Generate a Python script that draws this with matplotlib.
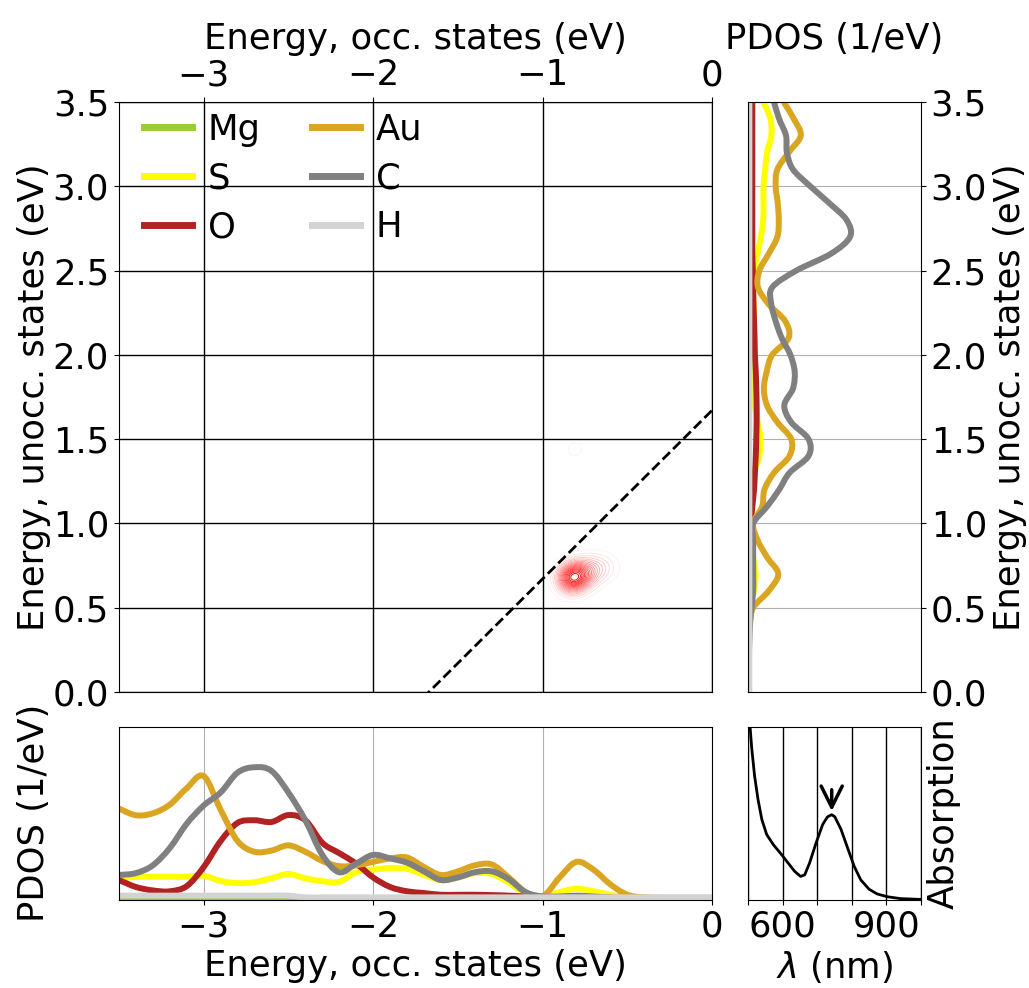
import numpy as np
import matplotlib
matplotlib.use('Agg')
import matplotlib.pyplot as plt
from matplotlib.path import Path
from matplotlib.patches import PathPatch
from matplotlib.lines import Line2D
from matplotlib.colors import Normalize

plt.rcParams['font.size'] = 25.5

elements = ['Mg', 'S', 'O', 'Au', 'C', 'H']
colors = ['yellowgreen', 'yellow', 'firebrick', 'goldenrod', 'gray', 'lightgray']

# occupied-state PDOS, energies -3.5 .. 0.0 eV (step 0.1)
e_occ = np.round(np.arange(-3.5, 0.01, 0.1), 2)
pdos_occ = {
    'Mg': [0.005] * 36,
    'S': [0.125, 0.133, 0.134, 0.134, 0.134, 0.14, 0.11, 0.097, 0.103, 0.125,
          0.15, 0.125, 0.108, 0.105, 0.16, 0.175, 0.185, 0.18, 0.145, 0.115,
          0.13, 0.155, 0.15, 0.10, 0.035, 0.02, 0.045, 0.065, 0.05, 0.03,
          0.015, 0.01, 0.01, 0.01, 0.01, 0.01],
    'O': [0.115, 0.075, 0.055, 0.05, 0.08, 0.19, 0.34, 0.445, 0.46, 0.45,
          0.49, 0.46, 0.33, 0.27, 0.21, 0.13, 0.075, 0.05, 0.04, 0.03,
          0.03, 0.03, 0.028, 0.025, 0.02, 0.015, 0.012, 0.012, 0.012, 0.012,
          0.012, 0.012, 0.012, 0.012, 0.012, 0.012],
    'Au': [0.527, 0.489, 0.50, 0.55, 0.645, 0.715, 0.52, 0.34, 0.278, 0.285,
           0.315, 0.278, 0.225, 0.195, 0.20, 0.22, 0.24, 0.245, 0.19, 0.144,
           0.165, 0.20, 0.205, 0.13, 0.045, 0.02, 0.13, 0.22, 0.175, 0.09,
           0.03, 0.015, 0.012, 0.01, 0.01, 0.01],
    'C': [0.144, 0.155, 0.20, 0.30, 0.44, 0.545, 0.62, 0.735, 0.766, 0.745,
          0.62, 0.46, 0.26, 0.16, 0.21, 0.26, 0.24, 0.215, 0.165, 0.115,
          0.13, 0.16, 0.165, 0.12, 0.045, 0.02, 0.02, 0.025, 0.02, 0.015,
          0.01, 0.01, 0.01, 0.01, 0.01, 0.01],
    'H': [0.025] * 11 + [0.015] * 25,
}

# unoccupied-state PDOS, energies 0.0 .. 3.5 eV (step 0.1)
e_unocc = np.round(np.arange(0.0, 3.51, 0.1), 2)
pdos_unocc = {
    'Mg': [0.004] * 36,
    'S': [0.003, 0.003, 0.003, 0.003, 0.003, 0.01, 0.035, 0.044, 0.03, 0.02,
          0.02, 0.025, 0.03, 0.035, 0.065, 0.073, 0.055, 0.04, 0.034, 0.034,
          0.034, 0.034, 0.034, 0.033, 0.03, 0.038, 0.055, 0.075, 0.088, 0.09,
          0.09, 0.10, 0.11, 0.135, 0.13, 0.09],
    'O': [0.005] * 10 + [0.015, 0.025, 0.035, 0.04, 0.045, 0.048, 0.05, 0.05,
          0.048, 0.045, 0.04, 0.038, 0.035, 0.032, 0.03, 0.028] + [0.025] * 10,
    'Au': [0.004, 0.004, 0.004, 0.005, 0.01, 0.03, 0.12, 0.175, 0.11, 0.056,
           0.03, 0.082, 0.095, 0.15, 0.24, 0.25, 0.17, 0.11, 0.092, 0.108,
           0.14, 0.235, 0.215, 0.12, 0.058, 0.066, 0.12, 0.17, 0.178, 0.172,
           0.16, 0.17, 0.235, 0.305, 0.265, 0.206],
    'C': [0.005, 0.005, 0.005, 0.008, 0.012, 0.02, 0.03, 0.03, 0.03, 0.03,
          0.03, 0.11, 0.18, 0.24, 0.35, 0.35, 0.25, 0.21, 0.26, 0.27,
          0.245, 0.195, 0.16, 0.135, 0.14, 0.28, 0.48, 0.59, 0.57, 0.47,
          0.36, 0.26, 0.225, 0.22, 0.18, 0.15],
    'H': [0.008] * 36,
}

# transition contribution map (occ. energy, unocc. energy, weight)
tr_occ = [-0.83, -0.77, -0.70, -0.62, -0.81]
tr_unocc = [0.675, 0.70, 0.73, 0.74, 1.44]
tr_weight = [1.0, 0.45, 0.25, 0.12, 0.08]
sigma = 0.06

# absorption spectrum
wavelength = [500, 506, 511, 519, 529, 540, 554, 573, 597, 616, 635, 652, 664,
              678, 697, 716, 730, 742, 751, 769, 788, 807, 826, 850, 873, 902,
              940, 1000]
absorption = [1.2, 1.0, 0.872, 0.717, 0.58, 0.465, 0.378, 0.32, 0.262, 0.213,
              0.165, 0.136, 0.145, 0.213, 0.33, 0.436, 0.48, 0.492, 0.48, 0.407,
              0.30, 0.194, 0.116, 0.062, 0.035, 0.019, 0.008, 0.003]
peak_wavelength = 742


def smooth_path(x, y):
    # cubic curve through the points (Catmull-Rom tangents)
    pts = np.column_stack([np.asarray(x, float), np.asarray(y, float)])
    tan = np.zeros_like(pts)
    tan[1:-1] = (pts[2:] - pts[:-2]) / 2
    tan[0] = pts[1] - pts[0]
    tan[-1] = pts[-1] - pts[-2]
    verts = [pts[0]]
    codes = [Path.MOVETO]
    for i in range(len(pts) - 1):
        verts += [pts[i] + tan[i] / 3, pts[i + 1] - tan[i + 1] / 3, pts[i + 1]]
        codes += [Path.CURVE4] * 3
    return Path(verts, codes)


fig = plt.figure(figsize=(10.29, 9.88), dpi=100)
ax = fig.add_axes([0.1156, 0.2996, 0.5764, 0.5972])
ax_r = fig.add_axes([0.7269, 0.2996, 0.1681, 0.5972])
ax_b = fig.add_axes([0.1156, 0.0891, 0.5764, 0.1754])
ax_a = fig.add_axes([0.7269, 0.0891, 0.1681, 0.1754])

# TCM contour
X, Y = np.meshgrid(np.linspace(-3.5, 0, 701), np.linspace(0, 3.5, 701))
Z = np.zeros_like(X)
for eo, eu, w in zip(tr_occ, tr_unocc, tr_weight):
    Z += w * np.exp(-((X - eo) ** 2 + (Y - eu) ** 2) / (2 * sigma ** 2))
Z /= Z.max()
ax.contour(X, Y, Z, levels=np.linspace(0.05, 0.95, 19), cmap='bwr',
           norm=Normalize(-1, 1), linewidths=0.7)
omega = 1239.84 / peak_wavelength
xs = np.array([-3.5, 0])
ax.plot(xs, xs + omega, 'k--', lw=2)
ax.set_xlim(-3.5, 0)
ax.set_ylim(0, 3.5)
ax.set_xticks([-3, -2, -1, 0])
ax.set_yticks(np.arange(0, 3.51, 0.5))
ax.xaxis.tick_top()
ax.xaxis.set_label_position('top')
ax.set_xlabel('Energy, occ. states (eV)')
ax.set_ylabel('Energy, unocc. states (eV)')
ax.grid(True, color='k', lw=1)

handles = []
for el, c in zip(elements, colors):
    ax_b.add_patch(PathPatch(smooth_path(e_occ, pdos_occ[el]), fill=False,
                             edgecolor=c, lw=4.3, zorder=2))
    ax_r.add_patch(PathPatch(smooth_path(pdos_unocc[el], e_unocc), fill=False,
                             edgecolor=c, lw=4.3, zorder=2))
    handles.append(Line2D([], [], color=c, lw=5, label=el))

ax.legend(handles=handles, ncol=2, frameon=False, loc='upper left',
          bbox_to_anchor=(0.018, 1.006), borderaxespad=0,
          handlelength=1.35, handletextpad=0.45, columnspacing=1.45,
          labelspacing=0.42)

ax_b.set_xlim(-3.5, 0)
ax_b.set_ylim(0, 1)
ax_b.set_xticks([-3, -2, -1, 0])
ax_b.set_yticks([])
ax_b.set_xlabel('Energy, occ. states (eV)')
ax_b.set_ylabel('PDOS (1/eV)')
ax_b.grid(True, axis='x')

ax_r.set_ylim(0, 3.5)
ax_r.set_xlim(0, 1)
ax_r.set_xticks([])
ax_r.set_yticks(np.arange(0, 3.51, 0.5))
ax_r.yaxis.tick_right()
ax_r.yaxis.set_label_position('right')
ax_r.set_ylabel('Energy, unocc. states (eV)')
ax_r.xaxis.set_label_position('top')
ax_r.set_xlabel('PDOS (1/eV)')
ax_r.grid(True, axis='y')

ax_a.plot(wavelength, absorption, 'k-', lw=2)
peak_val = absorption[wavelength.index(peak_wavelength)]
ax_a.annotate('', xy=(peak_wavelength, peak_val + 0.005),
              xytext=(peak_wavelength, peak_val + 0.16),
              arrowprops=dict(arrowstyle='->', lw=2.5, color='k',
                              mutation_scale=38))
ax_a.set_xlim(500, 1000)
ax_a.set_ylim(0, 1)
ax_a.set_xticks(range(500, 1001, 100))
ax_a.set_xticklabels(['', '600', '', '', '900', ''])
ax_a.set_yticks([])
ax_a.yaxis.set_label_position('right')
ax_a.set_ylabel('Absorption')
ax_a.set_xlabel(r'$\lambda$ (nm)')
ax_a.grid(True, axis='x', color='k', lw=1)

# line the outer labels up
ax.yaxis.set_label_coords(-0.115, 0.5)
ax_b.yaxis.set_label_coords(-0.115, 0.5)
ax.xaxis.set_label_coords(0.5, 1.09)
ax_r.xaxis.set_label_coords(0.5, 1.09)

plt.savefig('out.png')
